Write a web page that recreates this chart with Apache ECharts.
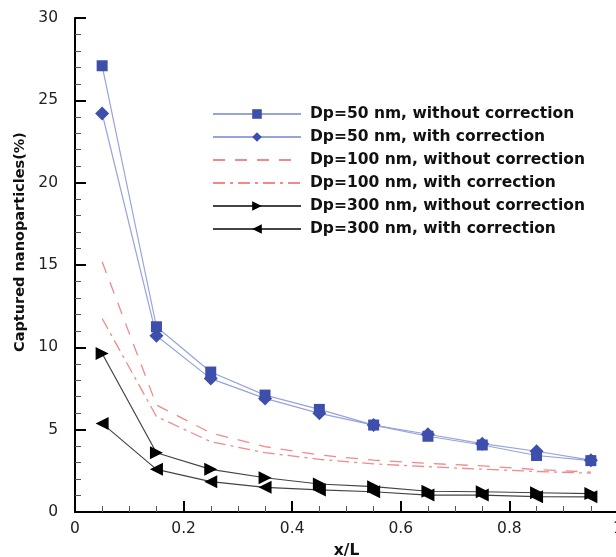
<!DOCTYPE html>
<html>
<head>
<meta charset="utf-8">
<script src="https://cdn.jsdelivr.net/npm/echarts@6/dist/echarts.min.js"></script>
<style>
  html, body { margin: 0; padding: 0; background: #fff; }
  #main { width: 616px; height: 557px; }
</style>
</head>
<body>
<div id="main"></div>
<script>
const xValues = [0.05, 0.15, 0.25, 0.35, 0.45, 0.55, 0.65, 0.75, 0.85, 0.95];
const dp50Without = [27.1, 11.25, 8.5, 7.1, 6.23, 5.28, 4.6, 4.07, 3.43, 3.12];
const dp50With = [24.2, 10.7, 8.1, 6.9, 5.99, 5.28, 4.72, 4.15, 3.69, 3.15];
const dp100Without = [15.2, 6.5, 4.8, 3.97, 3.46, 3.15, 2.95, 2.8, 2.58, 2.42];
const dp100With = [11.75, 5.8, 4.27, 3.6, 3.2, 2.92, 2.75, 2.6, 2.46, 2.36];
const dp300Without = [9.63, 3.6, 2.59, 2.08, 1.7, 1.54, 1.26, 1.23, 1.17, 1.12];
const dp300With = [5.38, 2.59, 1.84, 1.5, 1.34, 1.23, 1.03, 1.03, 0.93, 0.92];

const seriesNames = [
  "Dp=50 nm, without correction",
  "Dp=50 nm, with correction",
  "Dp=100 nm, without correction",
  "Dp=100 nm, with correction",
  "Dp=300 nm, without correction",
  "Dp=300 nm, with correction"
];

const pairs = (ys) => xValues.map((x, i) => [x, ys[i]]);

const blue = "#3e4fab";
const lightBlue = "#96a3dc";
const red = "#f08a8a";
const dark = "#444";
const rightTri = "path://M0,0 L10,5 L0,10 Z";
const leftTri = "path://M10,0 L0,5 L10,10 Z";
const font = "DejaVu Sans, sans-serif";

function lineSeries(name, ys, opts) {
  return Object.assign({
    name: name,
    type: "line",
    data: pairs(ys),
    z: 3
  }, opts);
}

const legendData = seriesNames.map((n, i) =>
  (i === 2 || i === 3) ? { name: n, itemStyle: { opacity: 0 } } : { name: n });

const axisCommon = {
  axisLine: { show: true, lineStyle: { color: "#000", width: 2 } },
  axisTick: { show: true, inside: true, length: 11, lineStyle: { color: "#000", width: 2 } },
  splitLine: { show: false }
};

const chart = echarts.init(document.getElementById("main"));
chart.setOption({
  animation: false,
  textStyle: { fontFamily: font },
  grid: { left: 75, top: 18, right: -2, bottom: 45, outerBoundsMode: "none", containLabel: false },
  legend: {
    orient: "vertical",
    left: 207,
    top: 101,
    itemWidth: 88,
    itemHeight: 12,
    itemGap: 7,
    selectedMode: false,
    textStyle: { fontFamily: font, fontSize: 15.5, fontWeight: "bold", color: "#111", padding: [0, 0, 0, 4] },
    data: legendData
  },
  xAxis: Object.assign({
    type: "value",
    min: 0,
    max: 1,
    interval: 0.2,
    name: "x/L",
    nameLocation: "middle",
    nameGap: 31,
    nameTextStyle: { fontFamily: font, fontSize: 15.5, fontWeight: "bold", color: "#111" },
    minorTick: { show: true, splitNumber: 4, length: 6, lineStyle: { color: "#555", width: 1 } },
    axisLabel: { fontFamily: font, fontSize: 15.5, color: "#222", margin: 9 }
  }, axisCommon),
  yAxis: Object.assign({
    type: "value",
    min: 0,
    max: 30,
    interval: 5,
    name: "Captured nanoparticles(%)",
    nameLocation: "middle",
    nameGap: 47,
    nameTextStyle: { fontFamily: font, fontSize: 14.5, fontWeight: "bold", color: "#111", padding: [0, 0, 0, 46] },
    minorTick: { show: true, splitNumber: 5, length: 6, lineStyle: { color: "#555", width: 1 } },
    axisLabel: { fontFamily: font, fontSize: 15.5, color: "#222", margin: 17 }
  }, axisCommon),
  series: [
    lineSeries(seriesNames[0], dp50Without, {
      symbol: "rect", symbolSize: 11,
      itemStyle: { color: blue },
      lineStyle: { color: lightBlue, width: 1.2 }
    }),
    lineSeries(seriesNames[1], dp50With, {
      symbol: "diamond", symbolSize: 14,
      itemStyle: { color: blue },
      lineStyle: { color: lightBlue, width: 1.2 }
    }),
    lineSeries(seriesNames[2], dp100Without, {
      symbol: "none",
      itemStyle: { color: red },
      lineStyle: { color: red, width: 1.3, type: [12, 10] }
    }),
    lineSeries(seriesNames[3], dp100With, {
      symbol: "none",
      itemStyle: { color: red },
      lineStyle: { color: red, width: 1.3, type: [12, 5, 3, 5] }
    }),
    lineSeries(seriesNames[4], dp300Without, {
      symbol: rightTri, symbolSize: 13,
      itemStyle: { color: "#000" },
      lineStyle: { color: dark, width: 1.2 }
    }),
    lineSeries(seriesNames[5], dp300With, {
      symbol: leftTri, symbolSize: 13,
      itemStyle: { color: "#000" },
      lineStyle: { color: dark, width: 1.2 }
    })
  ]
});
</script>
</body>
</html>
